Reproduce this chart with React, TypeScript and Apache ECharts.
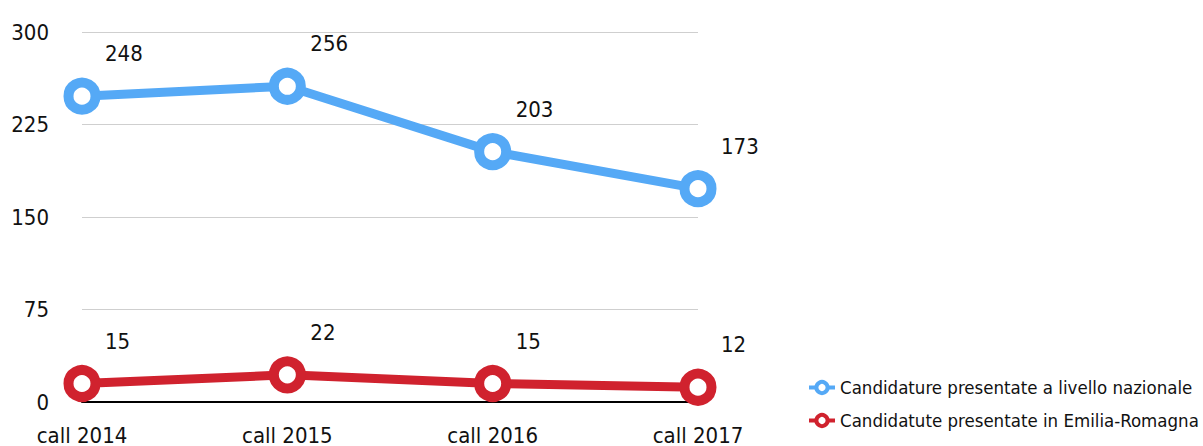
import React, { useEffect, useRef } from "react";
import * as echarts from "echarts";

const categories = ["call 2014", "call 2015", "call 2016", "call 2017"];
const nazionale = [248, 256, 203, 173];
const emiliaRomagna = [15, 22, 15, 12];
const seriesNames = [
  "Candidature presentate a livello nazionale",
  "Candidatute presentate in Emilia-Romagna",
];
const yTicks = { min: 0, max: 300, interval: 75 };

const FONT = "'Liberation Sans Narrow', 'DejaVu Sans Condensed', sans-serif";
const BLUE = "#55A9F6";
const RED = "#D0222E";

export default function App() {
  const ref = useRef<HTMLDivElement>(null);
  useEffect(() => {
    if (!ref.current) return;
    const chart = echarts.init(ref.current, undefined, { renderer: "svg" });
    const mkSeries = (name: string, data: number[], color: string) => ({
      name,
      type: "line",
      data,
      symbol: "circle",
      symbolSize: 27,
      showAllSymbol: true,
      lineStyle: { color, width: 9 },
      itemStyle: { color: "#ffffff", borderColor: color, borderWidth: 10 },
      label: {
        show: true,
        position: "top",
        align: "left",
        distance: 5,
        offset: [23, -8],
        color: "#111",
        fontFamily: FONT,
        fontSize: 22,
      },
    });
    chart.setOption({
      animation: false,
      textStyle: { fontFamily: FONT },
      grid: { left: 82, right: 505, top: 32, bottom: 43, containLabel: false },
      legend: {
        orient: "vertical",
        left: 802,
        top: 373,
        itemWidth: 26,
        itemHeight: 14,
        itemGap: 14,
        itemStyle: { borderWidth: 4 },
        lineStyle: { width: 4 },
        textStyle: { fontFamily: FONT, fontSize: 18.5, color: "#111" },
        data: seriesNames,
      },
      xAxis: {
        type: "category",
        data: categories,
        boundaryGap: false,
        axisLine: { show: true, lineStyle: { color: "#000", width: 2 } },
        axisTick: { show: false },
        axisLabel: {
          color: "#111",
          fontFamily: FONT,
          fontSize: 22,
          margin: 22,
          interval: 0,
        },
      },
      yAxis: {
        type: "value",
        min: yTicks.min,
        max: yTicks.max,
        interval: yTicks.interval,
        axisLine: { show: false },
        axisTick: { show: false },
        splitLine: { lineStyle: { color: "#cfcfcf", width: 1 } },
        axisLabel: {
          color: "#111",
          fontFamily: FONT,
          fontSize: 22,
          margin: 33,
        },
      },
      series: [
        mkSeries(seriesNames[0], nazionale, BLUE),
        mkSeries(seriesNames[1], emiliaRomagna, RED),
      ],
    });
    return () => chart.dispose();
  }, []);
  return (
    <div
      ref={ref}
      style={{ width: 1203, height: 446, position: "absolute", left: 0, top: 0 }}
    />
  );
}
